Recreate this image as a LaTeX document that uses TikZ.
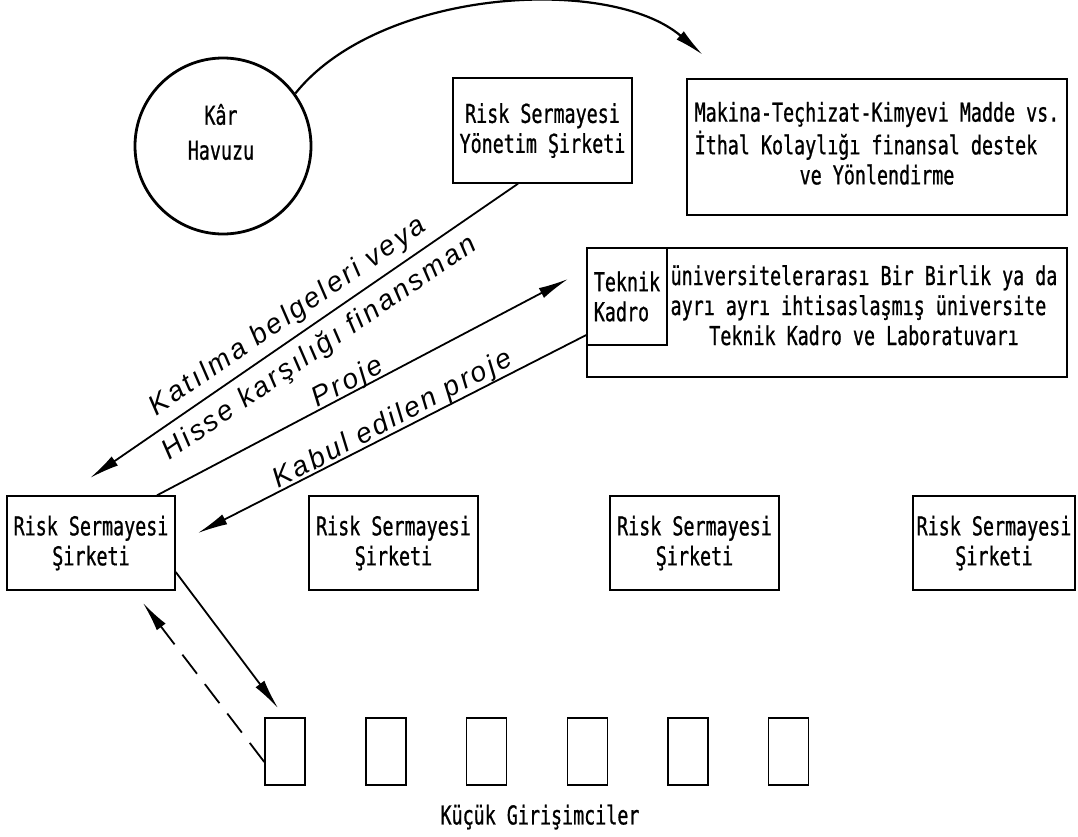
\documentclass[tikz,border=0pt]{standalone}
\usepackage{fontspec}
\newfontfamily\dm[FakeStretch=0.706,FakeBold=0.8]{DejaVu Sans Mono}
\newfontfamily\hand[LetterSpace=10]{Liberation Sans}
\usetikzlibrary{arrows.meta}
\tikzset{
  box/.style={draw, line width=1.4pt, inner sep=0pt, font=\dm\fontsize{26}{30}\selectfont, align=center},
  conn/.style={line width=1.8pt, -{Latex[length=30pt,width=11pt]}},
  lab/.style={font=\hand\itshape\fontsize{28}{32}\selectfont, inner sep=0pt},
  smallbox/.style={draw, line width=1.4pt, minimum width=40pt, minimum height=67pt, inner sep=0pt},
  mono/.style={font=\dm\fontsize{26}{30}\selectfont, inner sep=0pt},
}
\begin{document}
\begin{tikzpicture}[x=1pt,y=-1pt]
\useasboundingbox (0,0) rectangle (1078,836);
% top row
\node[draw, circle, line width=2.8pt, minimum size=176pt, inner sep=0pt] (kar) at (223,146) {};
\node[mono, align=center, font=\dm\fontsize{26}{35}\selectfont] (kart) at (221,132) {Kâr\\Havuzu};
\node[box, minimum width=179pt, minimum height=105pt] (rsy) at (542.5,130.5)
  {Risk Sermayesi\\Yönetim Şirketi};
\node[box, minimum width=380pt, minimum height=136pt] (mak) at (877,147)
  {\begin{tabular}{@{}l@{}}Makina-Teçhizat-Kimyevi Madde vs.\\İthal Kolaylığı finansal destek\\\multicolumn{1}{@{}c@{}}{ve Yönlendirme}\end{tabular}};
% technical staff
\node[box, minimum width=480pt, minimum height=129pt] (tek) at (827,312.5) {};
\node[box, minimum width=80pt, minimum height=97pt, align=left] (tk) at (627,296.5) {Teknik\\Kadro};
\node[mono] (tekt) at (864,309)
  {\begin{tabular}{@{}l@{}}üniversitelerarası Bir Birlik ya da\\ayrı ayrı ihtisaslaşmış üniversite\\\multicolumn{1}{@{}c@{}}{Teknik Kadro ve Laboratuvarı}\end{tabular}};
% venture capital companies
\node[box, minimum width=168pt, minimum height=94pt] (rss1) at (91,543) {Risk Sermayesi\\Şirketi};
\node[box, minimum width=169pt, minimum height=94pt] (rss2) at (393.5,543) {Risk Sermayesi\\Şirketi};
\node[box, minimum width=169pt, minimum height=94pt] (rss3) at (694.5,543) {Risk Sermayesi\\Şirketi};
\node[box, minimum width=162pt, minimum height=94pt] (rss4) at (994,543) {Risk Sermayesi\\Şirketi};
% small entrepreneurs
\node[smallbox] (s1) at (285,751.5) {};
\node[smallbox] (s2) at (386,751.5) {};
\node[smallbox] (s3) at (486.5,751.5) {};
\node[smallbox] (s4) at (587.5,751.5) {};
\node[smallbox] (s5) at (688,751.5) {};
\node[smallbox] (s6) at (788.5,751.5) {};
\node[mono] (kg) at (540,817) {Küçük Girişimciler};
% connectors
\coordinate (t1) at (90,478);
\coordinate (t2) at (568,279);
\coordinate (t3) at (198,533);
\coordinate (t4) at (278,708);
\coordinate (t5) at (143,603);
\coordinate (t6) at (703,55);
\draw[conn, line width=2.2pt] (kar.36) .. controls (380,-12) and (610,-25) .. (t6);
\draw[conn] ([xshift=-24.5pt]rsy.south) -- (t1);
\draw[conn] ([xshift=66pt]rss1.north) -- (t2);
\draw[conn] ([yshift=-22.5pt]tek.west) -- (t3);
\draw[conn] ([yshift=-29pt]rss1.east) -- (t4);
\draw[conn, dash pattern=on 24pt off 13pt] ([yshift=-10.5pt]s1.west) -- (t5);
% handwritten labels
\node[lab, rotate=34.5] (l1) at (288.3,317) {Katılma belgeleri veya};
\node[lab, rotate=34.5] (l2) at (319.7,348.5) {Hisse karşılığı finansman};
\node[lab, rotate=28] (l3) at (348,383) {Proje};
\node[lab, rotate=28] (l4) at (393,420) {Kabul edilen proje};
\end{tikzpicture}
\end{document}
